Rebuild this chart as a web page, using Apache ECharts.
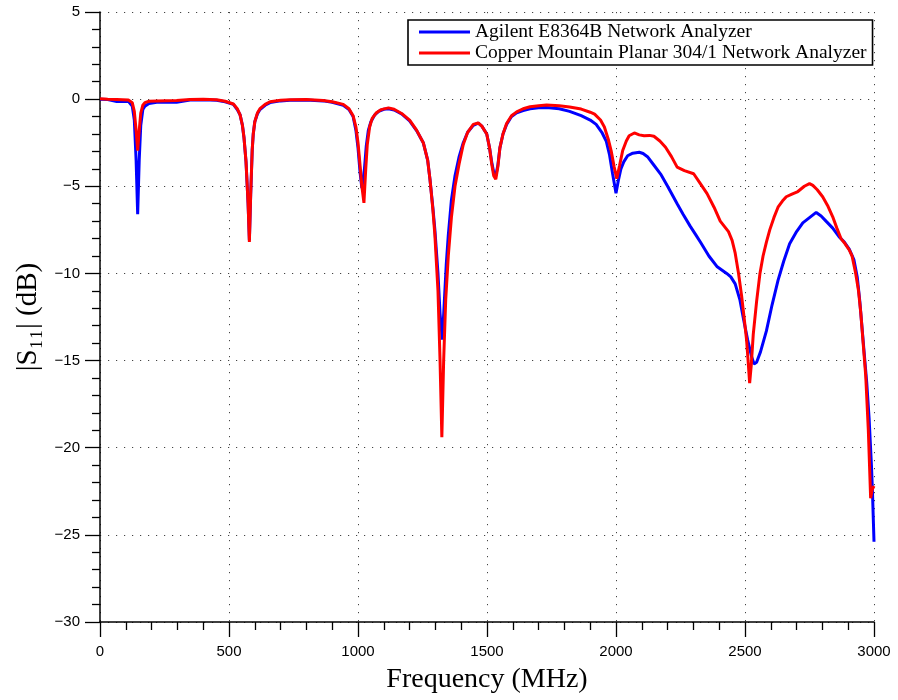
<!DOCTYPE html>
<html>
<head>
<meta charset="utf-8">
<script src="https://cdn.jsdelivr.net/npm/echarts@6/dist/echarts.min.js"></script>
<style>html,body{margin:0;padding:0;background:#fff;}#chart{width:898px;height:700px;}</style>
</head>
<body>
<div id="chart"></div>
<script>
const seriesNames = ['Agilent E8364B Network Analyzer', 'Copper Mountain Planar 304/1 Network Analyzer'];
const xTicks = [0, 500, 1000, 1500, 2000, 2500, 3000];
const yTicks = [5, 0, -5, -10, -15, -20, -25, -30];

const freqAgilent = [0,30,65,110,125,133,140,146,152,158,166,174,190,220,297,349,400,452,485,517,532,543,552,558,566,574,579,584,590,594,600,610,620,640,659,700,736,800,865,900,943,965,981,992,1000,1008,1015,1020,1025,1032,1040,1050,1065,1080,1100,1118,1140,1169,1200,1227,1253,1270,1279,1290,1298,1310,1318,1327,1335,1342,1350,1362,1376,1392,1408,1425,1447,1466,1480,1499,1510,1518,1526,1534,1542,1550,1562,1576,1595,1615,1640,1667,1700,1731,1780,1820,1865,1900,1923,1945,1962,1975,1987,2000,2010,2019,2030,2045,2065,2090,2105,2122,2145,2173,2200,2237,2260,2288,2310,2327,2360,2391,2410,2429,2445,2462,2480,2494,2510,2526,2535,2545,2560,2583,2605,2628,2650,2673,2700,2724,2750,2776,2795,2814,2840,2865,2885,2904,2922,2935,2945,2961,2972,2981,2990,2994,3000];
const dbAgilent = [0,-0.02,-0.13,-0.12,-0.4,-1.2,-3.5,-6.6,-3.5,-1.5,-0.6,-0.4,-0.25,-0.18,-0.18,-0.05,-0.03,-0.06,-0.15,-0.3,-0.6,-0.9,-1.5,-2.2,-3.6,-6.0,-8.1,-5.5,-2.9,-2.0,-1.3,-0.85,-0.6,-0.35,-0.2,-0.1,-0.06,-0.05,-0.1,-0.18,-0.35,-0.6,-1.0,-1.8,-2.8,-4.2,-5.1,-5.2,-4.0,-2.7,-1.8,-1.3,-0.9,-0.7,-0.58,-0.55,-0.62,-0.85,-1.25,-1.8,-2.5,-3.5,-4.6,-6.2,-7.5,-10.0,-12.3,-13.8,-11.5,-9.5,-7.8,-5.8,-4.4,-3.3,-2.5,-1.9,-1.5,-1.38,-1.55,-2.0,-2.8,-3.6,-4.2,-4.4,-3.8,-2.8,-2.0,-1.45,-1.0,-0.78,-0.65,-0.55,-0.5,-0.48,-0.55,-0.7,-0.95,-1.2,-1.45,-1.9,-2.4,-3.2,-4.3,-5.4,-4.6,-4.0,-3.6,-3.25,-3.1,-3.05,-3.12,-3.3,-3.75,-4.3,-5.0,-6.0,-6.6,-7.3,-7.8,-8.2,-9.0,-9.6,-9.8,-10.0,-10.2,-10.6,-11.5,-12.6,-13.8,-14.8,-15.2,-15.1,-14.5,-13.3,-11.8,-10.4,-9.3,-8.3,-7.6,-7.1,-6.8,-6.5,-6.7,-7.0,-7.4,-7.9,-8.2,-8.6,-9.2,-10.2,-11.6,-14.4,-16.3,-18.3,-21.0,-22.5,-25.4];

const freqCopper = [0,30,65,110,125,133,140,146,152,158,166,174,190,220,297,349,400,452,485,517,532,543,552,558,566,574,579,584,590,594,600,610,620,640,659,700,736,800,865,900,943,965,981,992,1000,1008,1015,1023,1030,1036,1045,1055,1070,1090,1118,1140,1169,1200,1227,1253,1270,1279,1290,1298,1310,1318,1325,1332,1340,1350,1362,1376,1392,1408,1425,1447,1466,1480,1499,1510,1518,1526,1534,1542,1550,1562,1576,1595,1615,1640,1667,1700,1731,1780,1820,1865,1900,1917,1940,1955,1970,1981,1993,2003,2014,2026,2040,2051,2071,2090,2109,2130,2147,2170,2192,2215,2237,2265,2301,2325,2353,2380,2404,2420,2436,2450,2462,2475,2487,2497,2506,2512,2518,2524,2532,2545,2558,2570,2583,2596,2612,2628,2645,2660,2682,2705,2730,2750,2763,2780,2801,2820,2840,2856,2872,2888,2904,2915,2929,2940,2949,2958,2968,2978,2987,2993,3000];
const dbCopper = [0.02,0,-0.02,-0.05,-0.2,-0.7,-1.8,-2.95,-1.8,-0.8,-0.35,-0.2,-0.12,-0.1,-0.08,-0.02,0,-0.04,-0.12,-0.28,-0.55,-0.9,-1.5,-2.2,-3.6,-6.0,-8.2,-5.5,-2.9,-2.0,-1.3,-0.8,-0.55,-0.3,-0.15,-0.06,-0.04,-0.02,-0.08,-0.15,-0.3,-0.55,-0.95,-1.6,-2.5,-3.8,-5.0,-5.95,-4.0,-2.6,-1.6,-1.1,-0.8,-0.6,-0.5,-0.58,-0.82,-1.2,-1.78,-2.5,-3.5,-4.6,-6.3,-7.8,-11.0,-15.0,-19.4,-15.0,-11.5,-9.0,-6.8,-5.0,-3.7,-2.6,-1.9,-1.45,-1.36,-1.55,-2.0,-2.8,-3.7,-4.4,-4.6,-3.9,-2.8,-2.0,-1.4,-0.95,-0.73,-0.55,-0.44,-0.38,-0.34,-0.38,-0.45,-0.57,-0.75,-0.86,-1.2,-1.6,-2.3,-2.95,-3.9,-4.56,-3.8,-2.95,-2.4,-2.1,-1.94,-2.05,-2.1,-2.08,-2.13,-2.4,-2.76,-3.3,-3.9,-4.1,-4.28,-4.8,-5.42,-6.2,-7.0,-7.3,-7.6,-8.1,-8.84,-10.0,-11.3,-12.6,-13.8,-15.0,-16.3,-15.3,-13.5,-11.6,-10.0,-9.0,-8.2,-7.5,-6.8,-6.2,-5.85,-5.6,-5.45,-5.3,-5.0,-4.85,-4.95,-5.2,-5.6,-6.1,-6.75,-7.4,-8.0,-8.3,-8.65,-9.0,-10.0,-11.0,-12.3,-14.0,-15.9,-19.0,-22.9,-22.4,-22.2];

const toPairs = (xs, ys) => xs.map((x, i) => [x, ys[i]]);
const serif = '"Liberation Serif", "DejaVu Serif", serif';
const sans = '"Liberation Sans", Arial, sans-serif';

const chart = echarts.init(document.getElementById('chart'), null, {renderer: 'canvas'});
chart.setOption({
  animation: false,
  backgroundColor: '#fff',
  grid: {left: 100, top: 12, right: 24, bottom: 78, containLabel: false},
  legend: {
    orient: 'vertical', left: 408, top: 20,
    data: seriesNames,
    icon: 'rect', itemWidth: 51, itemHeight: 3, itemGap: 1,
    padding: [2, 6, 2, 11],
    borderColor: '#000', borderWidth: 1.6, backgroundColor: '#fff',
    textStyle: {fontFamily: serif, fontSize: 19.5, color: '#000', lineHeight: 18}
  },
  xAxis: {
    type: 'value', min: xTicks[0], max: xTicks[xTicks.length - 1], interval: 500,
    name: 'Frequency (MHz)', nameLocation: 'middle', nameGap: 44,
    nameTextStyle: {fontFamily: serif, fontSize: 28, color: '#000'},
    axisLine: {show: true, onZero: false, lineStyle: {color: '#000', width: 1.5}},
    axisTick: {show: true, inside: false, length: 15, lineStyle: {color: '#000', width: 1.3}},
    minorTick: {show: true, splitNumber: 5, length: 8, lineStyle: {color: '#000', width: 1.3}},
    axisLabel: {fontFamily: sans, fontSize: 15, color: '#000', margin: 22,
      formatter: v => String(v)},
    splitLine: {show: true, lineStyle: {color: '#444', width: 1, type: [1.2, 6.8]}}
  },
  yAxis: {
    type: 'value', min: -30, max: 5, interval: 5,
    name: '|S\u2081\u2081| (dB)', nameLocation: 'middle', nameGap: 57, nameRotate: 90,
    nameTextStyle: {fontFamily: serif, fontSize: 29, color: '#000'},
    axisLine: {show: true, onZero: false, lineStyle: {color: '#000', width: 1.5}},
    axisTick: {show: true, inside: false, length: 15, lineStyle: {color: '#000', width: 1.3}},
    minorTick: {show: true, splitNumber: 5, length: 8, lineStyle: {color: '#000', width: 1.3}},
    axisLabel: {fontFamily: sans, fontSize: 15, color: '#000', margin: 20,
      formatter: v => (v < 0 ? '\u2212' + Math.abs(v) : String(v))},
    splitLine: {show: true, lineStyle: {color: '#444', width: 1, type: [1.2, 6.8]}}
  },
  series: [
    {name: seriesNames[0], type: 'line', data: toPairs(freqAgilent, dbAgilent), showSymbol: false,
     lineStyle: {color: '#0000ff', width: 3}, itemStyle: {color: '#0000ff'}, z: 2},
    {name: seriesNames[1], type: 'line', data: toPairs(freqCopper, dbCopper), showSymbol: false,
     lineStyle: {color: '#ff0000', width: 3}, itemStyle: {color: '#ff0000'}, z: 3}
  ]
});
</script>
</body>
</html>
